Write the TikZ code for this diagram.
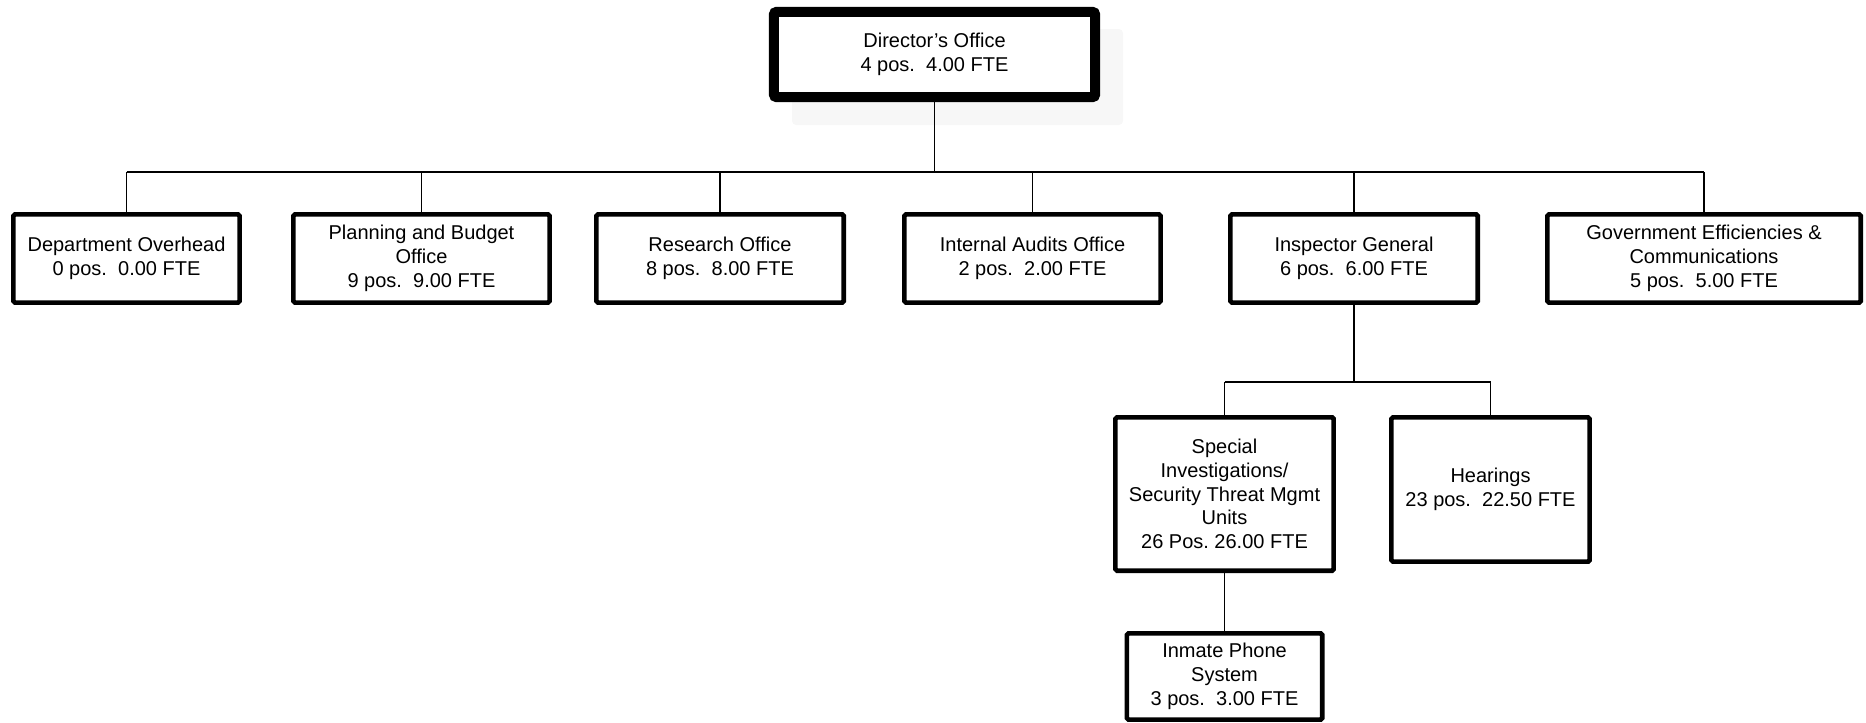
\documentclass[tikz,border=0pt]{standalone}
\usepackage{fontspec}
\setmainfont{Liberation Sans}
\frenchspacing
\begin{document}
\begin{tikzpicture}[x=0.75pt, y=-0.75pt,
  unit/.style={draw=black, line width=3.5pt, rounded corners=1.2pt, fill=white,
    align=center, inner sep=0pt,
    font=\fontsize{15pt}{17.8pt}\selectfont},
  headunit/.style={unit, line width=7.5pt, rounded corners=1.8pt},
  link/.style={draw=black, line width=1pt}]
\useasboundingbox (0,0) rectangle (1866,722);

% soft shadow behind the top box
\fill[black!3, rounded corners=3pt] (792,29) rectangle (1123,125);

% top level
\node[headunit, minimum width=240.8pt, minimum height=63.8pt] (dir) at (934.5,54.5)
  {Director’s Office\\4 pos.\ \ 4.00 FTE};

% second row
\node[unit, minimum width=169.7pt, minimum height=66.2pt] (dept) at (126.5,258.5)
  {Department Overhead\\0 pos.\ \ 0.00 FTE};
\node[unit, minimum width=192.2pt, minimum height=66.2pt] (plan) at (421.5,258.5)
  {Planning and Budget\\Office\\9 pos.\ \ 9.00 FTE};
\node[unit, minimum width=185.5pt, minimum height=66.2pt] (res) at (720,258.5)
  {Research Office\\8 pos.\ \ 8.00 FTE};
\node[unit, minimum width=192.2pt, minimum height=66.2pt] (ia) at (1032.5,258.5)
  {Internal Audits Office\\2 pos.\ \ 2.00 FTE};
\node[unit, minimum width=185.5pt, minimum height=66.2pt] (ig) at (1354,258.5)
  {Inspector General\\6 pos.\ \ 6.00 FTE};
\node[unit, minimum width=235pt, minimum height=66.2pt] (ge) at (1704,258.5)
  {Government Efficiencies \&\\Communications\\5 pos.\ \ 5.00 FTE};

% under the Inspector General
\node[unit, minimum width=163.7pt, minimum height=115pt] (sit) at (1224.5,494)
  {Special\\Investigations/\\Security Threat Mgmt\\Units\\26 Pos. 26.00 FTE};
\node[unit, minimum width=148.7pt, minimum height=108.2pt] (hear) at (1490.5,489.5)
  {Hearings\\23 pos.\ \ 22.50 FTE};
\node[unit, minimum width=146.5pt, minimum height=64.7pt] (phone) at (1224.5,676.5)
  {Inmate Phone\\System\\3 pos.\ \ 3.00 FTE};

% connector buses
\coordinate (busA) at (0,172);
\coordinate (busB) at (0,382);

\draw[link] (dir.south) -- (dir.south |- busA);
\draw[link] (dept.north |- busA) -- (ge.north |- busA);
\foreach \n in {dept,plan,res,ia,ig,ge}
  \draw[link] (\n.north |- busA) -- (\n.north);

\draw[link] (ig.south) -- (ig.south |- busB);
\draw[link] (sit.north |- busB) -- (hear.north |- busB);
\draw[link] (sit.north |- busB) -- (sit.north);
\draw[link] (hear.north |- busB) -- (hear.north);

\draw[link] (sit.south) -- (phone.north);
\end{tikzpicture}
\end{document}
